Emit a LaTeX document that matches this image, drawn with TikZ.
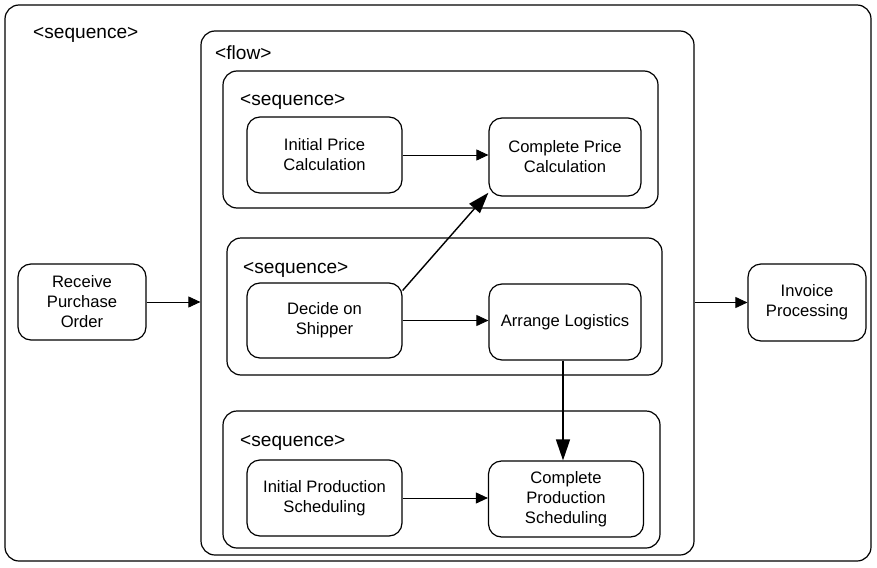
\documentclass[tikz,border=0pt]{standalone}
\usepackage{fontspec}
\setmainfont{Liberation Sans}
\usetikzlibrary{arrows.meta}
\begin{document}
\begin{tikzpicture}[x=1pt,y=-1pt,
  box/.style={draw, rounded corners=13pt, line width=1.2pt, inner sep=0pt, align=center,
    font=\fontsize{16.6}{20}\selectfont},
  cont/.style={draw, rounded corners=14pt, line width=1.2pt, inner sep=0pt},
  lbl/.style={anchor=base west, inner sep=0pt, font=\fontsize{19.1}{22}\selectfont},
  arr/.style={line width=0.9pt, -{Triangle[length=12pt,width=11pt]}},
  bigarr/.style={line width=1.4pt, -{Triangle[length=21pt,width=14pt]}}]
\useasboundingbox (0,0) rectangle (877,567);
% containers
\node[cont, minimum width=866pt, minimum height=556pt] (outer) at (438,283) {};
\node[cont, minimum width=493pt, minimum height=524pt] (flow) at (447.5,293) {};
\node[cont, minimum width=435pt, minimum height=137pt] (seqA) at (440.5,139.5) {};
\node[cont, minimum width=435pt, minimum height=137pt] (seqB) at (444.5,306.5) {};
\node[cont, minimum width=437pt, minimum height=137pt] (seqC) at (441.5,479.5) {};
% labels
\node[lbl] (lOuter) at (33,39) {<sequence>};
\node[lbl] (lFlow) at (215,60) {<flow>};
\node[lbl] (lA) at (240,106) {<sequence>};
\node[lbl] (lB) at (243,273) {<sequence>};
\node[lbl] (lC) at (240,446) {<sequence>};
% tasks
\node[box, minimum width=128pt, minimum height=76pt] (RPO) at (82,302) {Receive\\Purchase\\Order};
\node[box, minimum width=118pt, minimum height=77pt] (INV) at (807,302.5) {Invoice\\Processing};
\node[box, minimum width=155pt, minimum height=76pt] (IPC) at (324.5,155) {Initial Price\\Calculation};
\node[box, minimum width=152pt, minimum height=78pt] (CPC) at (565,157) {Complete Price\\Calculation};
\node[box, minimum width=155pt, minimum height=75pt] (DS) at (324.5,320.5) {Decide on\\Shipper};
\node[box, minimum width=152pt, minimum height=76pt] (AL) at (565,322) {Arrange Logistics};
\node[box, minimum width=155pt, minimum height=76pt] (IPS) at (324.5,498) {Initial Production\\Scheduling};
\node[box, minimum width=155pt, minimum height=76pt] (CPS) at (566,499) {Complete\\Production\\Scheduling};
% connectors
\draw[arr] (RPO.east) -- (RPO.east -| flow.west);
\draw[arr] (flow.east |- INV.west) -- (INV.west);
\draw[arr] (IPC.east) -- (IPC.east -| CPC.west);
\draw[arr] (DS.east) -- (DS.east -| AL.west);
\draw[arr] (IPS.east) -- (IPS.east -| CPS.west);
\draw[bigarr] (DS.21.5) -- (CPC.205.6);
\draw[bigarr] ([xshift=-2pt]AL.south) -- ([xshift=-2pt]AL.south |- CPS.north);
\end{tikzpicture}
\end{document}
